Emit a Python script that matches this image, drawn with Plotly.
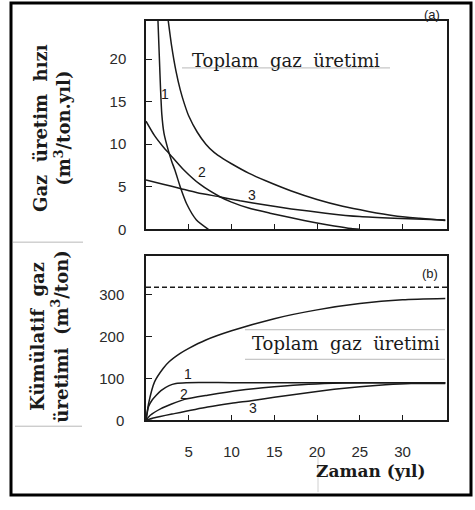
import plotly.graph_objects as go

# ---------------- data ----------------
x_ticks = [5, 10, 15, 20, 25, 30]
x_tick_labels = ["5", "10", "15", "20", "25", "30"]
rate_ticks = [0, 5, 10, 15, 20]
cum_ticks = [0, 100, 200, 300]

# (a) gas production rate, m3/(ton.yil)
rate_total_t = [2.6, 3.0, 3.5, 4.0, 4.5, 5, 6, 7, 8, 9, 10, 12, 14, 17, 20, 23, 26, 29, 32, 35]
rate_total = [24.5, 21.5, 18.6, 16.4, 14.7, 13.3, 11.4, 10.0, 9.0, 8.3, 7.7, 6.6, 5.7, 4.5, 3.5, 2.7, 2.1, 1.6, 1.3, 1.05]

rate1_t = [1.4, 1.55, 1.7, 1.85, 2.1, 2.6, 3.0, 3.4, 4.0, 4.75, 5.9, 7.3]
rate1 = [24.5, 20.5, 16.5, 13.5, 11.3, 9.3, 8.0, 6.9, 5.0, 3.0, 1.1, 0]

rate2_t = [0, 1, 2, 2.8, 4.4, 6.3, 8.7, 10, 12, 14.5, 17, 20, 22, 24, 25]
rate2 = [12.7, 11.0, 9.7, 8.8, 7.0, 5.3, 3.8, 3.2, 2.5, 1.9, 1.35, 0.75, 0.4, 0.1, 0]

rate3_t = [0, 2, 4, 6, 8.7, 11, 14, 17, 21, 25, 29, 35]
rate3 = [5.8, 5.3, 4.8, 4.3, 3.8, 3.35, 2.85, 2.4, 1.9, 1.5, 1.3, 1.1]

# (b) cumulative gas production, m3/ton
cum_limit = 318
cum_total_t = [0, 0.3, 1, 2, 2.7, 4, 5, 7, 10, 15, 20, 25, 30, 35]
cum_total = [0, 40, 92, 124, 140, 160, 172, 192, 214, 243, 264, 279, 288, 291]

cum1_t = [0, 0.3, 0.7, 1.2, 1.75, 2.7, 3.5, 4.7, 10, 20, 35]
cum1 = [0, 33, 48, 60, 71, 83, 88, 90, 90, 90, 90]

cum2_t = [0, 0.5, 1.75, 3, 4.5, 7.2, 11, 15, 19, 23, 28, 35]
cum2 = [0, 12, 28, 39, 50, 60, 72, 80, 86, 89, 90, 90]

cum3_t = [0, 1, 3.3, 7.2, 10, 12.3, 15, 18.9, 22, 25, 28, 31, 35]
cum3 = [0, 6, 16, 32, 41, 47, 55, 66, 74, 80, 85, 88, 88]

# ---------------- figure ----------------
W, H = 475, 510
def px(v):
    return v / W
def py(v):
    return 1 - v / H

LINE = dict(color="#1a1a1a", width=1.5, shape="spline", smoothing=0.6)
fig = go.Figure()

for t, v in [(rate_total_t, rate_total), (rate1_t, rate1), (rate2_t, rate2), (rate3_t, rate3)]:
    fig.add_trace(go.Scatter(x=t, y=v, mode="lines", line=LINE, xaxis="x", yaxis="y",
                             hoverinfo="skip", showlegend=False))
for t, v in [(cum_total_t, cum_total), (cum1_t, cum1), (cum2_t, cum2), (cum3_t, cum3)]:
    fig.add_trace(go.Scatter(x=t, y=v, mode="lines", line=LINE, xaxis="x2", yaxis="y2",
                             hoverinfo="skip", showlegend=False))
fig.add_trace(go.Scatter(x=[0, 35.2], y=[cum_limit, cum_limit], mode="lines",
                         line=dict(color="#1a1a1a", width=1.5, dash="5px,3px"),
                         xaxis="x2", yaxis="y2", hoverinfo="skip", showlegend=False))

TICKFONT = dict(family="Liberation Sans", size=15, color="#2a2a2a")
axis_common = dict(showgrid=False, zeroline=False, showline=True, linecolor="#1a1a1a",
                   linewidth=1.5, mirror=True, ticks="inside", ticklen=6,
                   tickcolor="#1a1a1a", tickwidth=1.2, tickfont=TICKFONT)

xdom = [px(146), px(447)]
fig.update_layout(
    width=W, height=H, margin=dict(l=0, r=0, t=0, b=0),
    paper_bgcolor="white", plot_bgcolor="white",
    xaxis=dict(domain=xdom, range=[0, 35.2], anchor="y", tickvals=x_ticks,
               showticklabels=False, **axis_common),
    yaxis=dict(domain=[py(233), py(21)], range=[0, 24.5], anchor="x", tickvals=rate_ticks,
               ticklabelstandoff=15, **axis_common),
    xaxis2=dict(domain=xdom, range=[0, 35.2], anchor="y2", tickvals=x_ticks,
                ticktext=x_tick_labels, ticklabelstandoff=17, **axis_common),
    yaxis2=dict(domain=[py(427), py(260)], range=[0, 393], anchor="x2", tickvals=cum_ticks,
                ticklabelstandoff=17, **axis_common),
)

SERIF = "DejaVu Serif"
C = dict(xanchor="center", yanchor="middle", showarrow=False)
TITLEF = dict(family=SERIF, size=18, color="#1a1a1a", weight="bold")
ann = []
# titles
ann.append(dict(text="Gaz  üretim  hızı<br>(m<sup>3</sup>/ton.yıl)", x=px(52), y=py(130),
                xref="paper", yref="paper", textangle=-90, font=TITLEF, **C))
ann.append(dict(text="Kümülatif  gaz<br>üretimi  (m<sup>3</sup>/ton)", x=px(49), y=py(342),
                xref="paper", yref="paper", textangle=-90, font=TITLEF, **C))
ann.append(dict(text="Zaman (yıl)", x=px(371), y=py(478), xref="paper", yref="paper",
                font=dict(family=SERIF, size=17, color="#1a1a1a", weight="bold"), **C))
ann.append(dict(text="Toplam  gaz  üretimi", x=px(286), y=py(61), xref="paper", yref="paper",
                font=dict(family=SERIF, size=18, color="#1a1a1a"), **C))
ann.append(dict(text="Toplam  gaz  üretimi", x=px(346), y=py(349), xref="paper", yref="paper",
                font=dict(family=SERIF, size=18, color="#1a1a1a"), **C))
ann.append(dict(text="(a)", x=px(432), y=py(15), xref="paper", yref="paper",
                font=dict(family="Liberation Sans", size=13, color="#222"), **C))
ann.append(dict(text="(b)", x=px(430), y=py(278), xref="paper", yref="paper",
                font=dict(family="Liberation Sans", size=13, color="#222"), **C))
# curve numbers
NUMF = dict(family="Liberation Sans", size=14, color="#1a1a1a")
for x, y, s in [(2.2, 15.9, "1"), (6.5, 6.7, "2"), (12.4, 4.0, "3")]:
    ann.append(dict(text=s, x=x, y=y, xref="x", yref="y", font=NUMF, **C))
for x, y, s in [(4.9, 111, "1"), (4.4, 62, "2"), (12.5, 30, "3")]:
    ann.append(dict(text=s, x=x, y=y, xref="x2", yref="y2", font=NUMF, **C))
fig.update_layout(annotations=ann)

shapes = []
# outer frame
shapes.append(dict(type="rect", xref="paper", yref="paper", x0=px(11), x1=px(471),
                   y0=py(503), y1=py(3), line=dict(color="black", width=3)))
# faint lines from the scan
GRAY = dict(color="#b8b8b8", width=1)
for x0, x1, yy in [(182, 390, 69), (13, 83, 246), (15, 82, 433), (245, 445, 335), (245, 445, 365)]:
    shapes.append(dict(type="line", xref="paper", yref="paper", x0=px(x0), x1=px(x1),
                       y0=py(yy), y1=py(yy), line=GRAY))
shapes.append(dict(type="line", xref="paper", yref="paper", x0=px(318), x1=px(318),
                   y0=py(462), y1=py(500), line=dict(color="#d0d0d0", width=1)))
fig.update_layout(shapes=shapes)

fig.write_html("out.html", config={"displayModeBar": False},
               post_script="document.body.style.margin='0';document.body.style.overflow='hidden';")
